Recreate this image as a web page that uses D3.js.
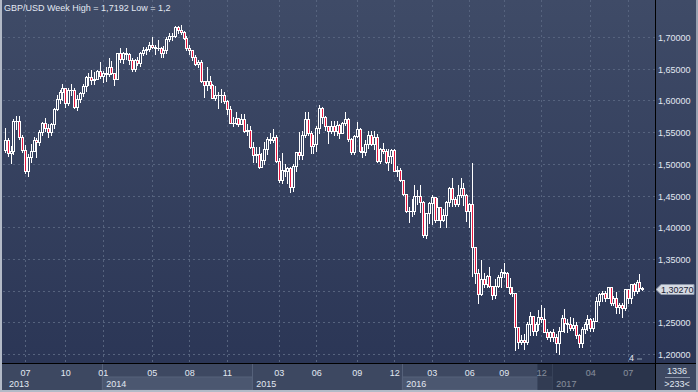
<!DOCTYPE html>
<html><head><meta charset="utf-8">
<script src="https://cdn.jsdelivr.net/npm/d3@7"></script>
<style>html,body{margin:0;padding:0;background:#2f3a55;overflow:hidden}svg{display:block}</style>
</head><body><svg id="c" width="698" height="392"></svg>
<script>
// ---------------- DATA ----------------
const startWeek = "2013-05-13";          // Monday of first weekly candle
const firstOpen = 1.5210;
const closes = [
1.5370,1.5170,1.5200,1.5670,1.5680,1.5430,1.5210,1.4880,1.5100,1.5200,
1.5380,1.5340,1.5500,1.5640,1.5570,1.5500,1.5630,1.5870,1.6020,1.6140,
1.6190,1.5960,1.6160,1.6170,1.5900,1.6020,1.6120,1.6230,1.6370,1.6370,
1.6320,1.6340,1.6470,1.6380,1.6440,1.6420,1.6530,1.6430,1.6340,1.6740,
1.6660,1.6750,1.6730,1.6630,1.6490,1.6640,1.6590,1.6750,1.6790,1.6810,
1.6880,1.6850,1.6820,1.6830,1.6750,1.6800,1.6970,1.7020,1.7010,1.7150,
1.7110,1.7080,1.6980,1.6830,1.6790,1.6690,1.6570,1.6600,1.6310,1.6250,
1.6300,1.6240,1.6040,1.6090,1.6090,1.6080,1.5990,1.5860,1.5650,1.5650,
1.5720,1.5630,1.5710,1.5520,1.5540,1.5270,1.5140,1.5160,1.4950,1.5060,
1.5240,1.5390,1.5380,1.5430,1.5040,1.4750,1.4900,1.4890,1.4930,1.4630,
1.4960,1.5180,1.5140,1.5450,1.5700,1.5480,1.5280,1.5320,1.5560,1.5880,
1.5740,1.5600,1.5510,1.5600,1.5510,1.5610,1.5490,1.5640,1.5700,1.5390,
1.5180,1.5440,1.5550,1.5200,1.5180,1.5320,1.5450,1.5320,1.5420,1.5040,
1.5230,1.5200,1.5030,1.5130,1.5210,1.4890,1.4910,1.4740,1.4530,1.4260,
1.4260,1.4250,1.4500,1.4500,1.4400,1.3880,1.4220,1.4380,1.4470,1.4120,
1.4320,1.4120,1.4200,1.4400,1.4620,1.4440,1.4360,1.4510,1.4620,1.4510,
1.4250,1.4360,1.3680,1.3280,1.2950,1.3180,1.3100,1.3230,1.3080,1.2930,
1.3070,1.3220,1.3300,1.3270,1.3060,1.2960,1.2970,1.2430,1.2190,1.2220,
1.2190,1.2480,1.2600,1.2360,1.2480,1.2590,1.2550,1.2350,1.2270,1.2340,
1.2270,1.2180,1.2370,1.2560,1.2490,1.2480,1.2410,1.2460,1.2300,1.2180,
1.2400,1.2480,1.2550,1.2410,1.2520,1.2830,1.2950,1.2960,1.2880,1.3050,
1.2800,1.2890,1.2740,1.2780,1.2720,1.3020,1.2880,1.3100,1.3000,1.3140,
1.3040,1.3027];
const highs = [
1.5560,1.5400,1.5280,1.5700,1.5750,1.5750,1.5460,1.5290,1.5150,1.5320,
1.5430,1.5400,1.5530,1.5660,1.5720,1.5620,1.5650,1.5880,1.6080,1.6160,
1.6260,1.6200,1.6190,1.6260,1.6200,1.6080,1.6140,1.6260,1.6390,1.6440,
1.6480,1.6450,1.6480,1.6600,1.6470,1.6520,1.6670,1.6620,1.6440,1.6750,
1.6820,1.6760,1.6820,1.6740,1.6670,1.6660,1.6680,1.6770,1.6840,1.6840,
1.6920,1.7000,1.6880,1.6960,1.6840,1.6860,1.7000,1.7060,1.7060,1.7180,
1.7180,1.7192,1.7100,1.7010,1.6880,1.6790,1.6710,1.6640,1.6640,1.6260,
1.6520,1.6390,1.6260,1.6230,1.6140,1.6180,1.6130,1.6000,1.5910,1.5740,
1.5810,1.5720,1.5790,1.5790,1.5620,1.5600,1.5340,1.5270,1.5270,1.5170,
1.5350,1.5420,1.5490,1.5550,1.5450,1.5090,1.5170,1.5000,1.4950,1.4950,
1.4990,1.5190,1.5500,1.5520,1.5810,1.5820,1.5520,1.5460,1.5590,1.5930,
1.5900,1.5760,1.5600,1.5680,1.5680,1.5670,1.5630,1.5660,1.5820,1.5730,
1.5400,1.5460,1.5660,1.5560,1.5270,1.5370,1.5510,1.5510,1.5510,1.5470,
1.5250,1.5330,1.5230,1.5240,1.5240,1.5240,1.4960,1.4930,1.4750,1.4530,
1.4320,1.4450,1.4670,1.4590,1.4670,1.4410,1.4230,1.4400,1.4510,1.4460,
1.4460,1.4300,1.4280,1.4420,1.4640,1.4770,1.4470,1.4660,1.4770,1.4690,
1.4530,1.4380,1.5020,1.3530,1.3340,1.3480,1.3280,1.3250,1.3370,1.3050,
1.3190,1.3250,1.3340,1.3440,1.3300,1.3200,1.3060,1.2970,1.2380,1.2300,
1.2320,1.2500,1.2670,1.2590,1.2510,1.2700,1.2770,1.2730,1.2400,1.2370,
1.2400,1.2320,1.2420,1.2620,1.2710,1.2550,1.2580,1.2570,1.2500,1.2320,
1.2420,1.2510,1.2620,1.2570,1.2560,1.2900,1.2960,1.2990,1.2990,1.3060,
1.3050,1.2920,1.2980,1.2810,1.2810,1.3030,1.3030,1.3110,1.3120,1.3160,
1.3268,1.3060];
const lows = [
1.5180,1.5120,1.5010,1.5160,1.5550,1.5390,1.5180,1.4860,1.4810,1.5030,
1.5210,1.5100,1.5290,1.5450,1.5520,1.5420,1.5450,1.5560,1.5850,1.5960,
1.6000,1.5900,1.5920,1.6080,1.5880,1.5850,1.5980,1.6070,1.6150,1.6250,
1.6260,1.6260,1.6340,1.6360,1.6290,1.6300,1.6380,1.6410,1.6250,1.6330,
1.6610,1.6590,1.6660,1.6580,1.6460,1.6460,1.6560,1.6540,1.6710,1.6730,
1.6780,1.6820,1.6730,1.6790,1.6690,1.6690,1.6750,1.6930,1.6960,1.7000,
1.7060,1.7040,1.6970,1.6800,1.6730,1.6640,1.6560,1.6530,1.6290,1.6050,
1.6160,1.6200,1.6030,1.6000,1.5880,1.5980,1.5960,1.5790,1.5640,1.5590,
1.5620,1.5590,1.5620,1.5500,1.5460,1.5250,1.5035,1.5030,1.4940,1.4950,
1.4990,1.5150,1.5330,1.5350,1.5030,1.4710,1.4690,1.4810,1.4690,1.4560,
1.4570,1.4880,1.5080,1.5070,1.5430,1.5450,1.5170,1.5170,1.5200,1.5480,
1.5640,1.5530,1.5330,1.5490,1.5460,1.5450,1.5400,1.5480,1.5610,1.5360,
1.5160,1.5150,1.5430,1.5190,1.5110,1.5140,1.5250,1.5300,1.5240,1.5030,
1.5020,1.5170,1.5020,1.4900,1.5010,1.4880,1.4800,1.4730,1.4510,1.4240,
1.4080,1.4170,1.4210,1.4370,1.4240,1.3840,1.3830,1.4070,1.4050,1.4080,
1.4110,1.4000,1.4090,1.4010,1.4330,1.4330,1.4330,1.4340,1.4470,1.4350,
1.4100,1.4010,1.3230,1.3120,1.2800,1.2930,1.3060,1.3050,1.3050,1.2860,
1.2880,1.3060,1.3060,1.3220,1.3050,1.2940,1.2910,1.2060,1.2090,1.2150,
1.2080,1.2150,1.2300,1.2300,1.2300,1.2380,1.2500,1.2340,1.2240,1.2200,
1.2200,1.2030,1.2000,1.2380,1.2350,1.2350,1.2380,1.2380,1.2250,1.2110,
1.2110,1.2330,1.2380,1.2370,1.2370,1.2520,1.2770,1.2840,1.2840,1.2880,
1.2770,1.2770,1.2640,1.2640,1.2590,1.2690,1.2810,1.2810,1.2930,1.2970,
1.3000,1.3010];

const priceTicks = [1.20,1.25,1.30,1.35,1.40,1.45,1.50,1.55,1.60,1.65,1.70];
const monthTickWeeks = ["2013-07-01","2013-10-07","2014-01-06","2014-05-05","2014-08-04","2014-11-03",
  "2015-03-09","2015-06-08","2015-09-14","2015-12-14","2016-03-14","2016-06-13","2016-09-05",
  "2016-12-05","2017-04-03","2017-07-03"];
const monthTickLabels = ["07","10","01","05","08","11","03","06","09","12","03","06","09","12","04","07"];
const yearStartWeeks = ["2013-05-13","2014-01-06","2015-01-05","2016-01-04","2017-01-02"];
const yearLabels = ["2013","2014","2015","2016","2017"];
const titleText = "GBP/USD Week High = 1,7192 Low = 1,2";
const lastPrice = 1.30270;
const cornerTop = "1336", cornerBottom = ">233<";
const pageLabel = "4";
const dimFromWeek = "2016-11-28";

// ---------------- LAYOUT ----------------
const W = 698, H = 392;
const plotL = 3, plotR = 655, plotB = 363;
const FONT = "'Liberation Sans', Arial, sans-serif";
const TXT = "#e2e8f2";
const svg = d3.select("#c");
const parse = d3.utcParse("%Y-%m-%d");
const t0 = parse(startWeek);
const weekIdx = s => d3.utcMonday.count(t0, parse(s));
const n = closes.length;
const opens = closes.map((c, i) => i === 0 ? firstOpen : closes[i - 1]);

const x = d3.scaleLinear().domain([-0.6, 225.4]).range([plotL, plotR]);
const y = d3.scaleLinear().domain([1.2, 1.7]).range([354, 37]);

const defs = svg.append("defs");
const g1 = defs.append("linearGradient").attr("id","bg").attr("x1",0).attr("y1",0).attr("x2",0).attr("y2",1);
g1.append("stop").attr("offset","0%").attr("stop-color","#3f4b67");
g1.append("stop").attr("offset","100%").attr("stop-color","#2b3656");

// backgrounds
svg.append("rect").attr("x",0).attr("y",0).attr("width",W).attr("height",plotB).attr("fill","url(#bg)");
svg.append("rect").attr("x",0).attr("y",plotB).attr("width",W).attr("height",H-plotB).attr("fill","#3d4861");

// grid
const grid = svg.append("g").attr("stroke","#56637e").attr("stroke-dasharray","2,3").attr("stroke-width",1);
priceTicks.forEach(p => {
  const yy = Math.round(y(p)) + 0.5;
  grid.append("line").attr("x1",plotL).attr("x2",plotR).attr("y1",yy).attr("y2",yy);
});
monthTickWeeks.forEach(s => {
  const xx = Math.round(x(weekIdx(s))) + 0.5;
  grid.append("line").attr("x1",xx).attr("x2",xx).attr("y1",0).attr("y2",plotB);
});

// candles
const RED = "#e8173f", WHITE = "#ffffff";
const cg = svg.append("g");
for (let i = 0; i < n; i++) {
  const o = opens[i], c = closes[i], hi = highs[i], lo = lows[i];
  const cx = Math.round(x(i));
  const yTop = Math.round(y(Math.max(o, c)));
  const yBot = Math.round(y(Math.min(o, c)));
  const yHi = Math.round(y(hi)), yLo = Math.round(y(lo));
  const up = c >= o;
  if (yHi < yTop) cg.append("rect").attr("x",cx).attr("y",yHi).attr("width",1).attr("height",yTop-yHi).attr("fill",WHITE);
  if (yLo > yBot) cg.append("rect").attr("x",cx).attr("y",yBot).attr("width",1).attr("height",yLo-yBot+1).attr("fill",WHITE);
  const h = Math.max(yBot - yTop, 0) + 1;
  cg.append("rect").attr("x",cx-1).attr("y",yTop).attr("width",3).attr("height",h).attr("fill",WHITE);
  if (h > 2) cg.append("rect").attr("x",cx).attr("y",yTop+1).attr("width",1).attr("height",h-2)
      .attr("fill", up ? "#34405e" : RED);
}

// title
svg.append("text").attr("x",4).attr("y",11).attr("font-family",FONT).attr("font-size",9)
  .attr("fill",TXT).text(titleText);

// right axis labels (the one hidden behind the last-price marker is skipped)
const fmt = v => v.toFixed(5).replace(".", ",");
priceTicks.filter(p => Math.abs(y(p) - y(lastPrice)) > 9).forEach(p => {
  svg.append("text").attr("x",658).attr("y",Math.round(y(p))+3.5).attr("font-family",FONT)
    .attr("font-size",9).attr("fill",TXT).text(fmt(p));
});

// last price marker
const ly = Math.round(y(lastPrice)) + 0.5;
svg.append("path").attr("d",`M656,${ly} L661,${ly-5} L694,${ly-5} L694,${ly+5} L661,${ly+5} Z`)
  .attr("fill","#d5dae3").attr("stroke","#8d97aa").attr("stroke-width",1);
svg.append("text").attr("x",661).attr("y",ly+3.5).attr("font-family",FONT).attr("font-size",9)
  .attr("fill","#1b2335").text(fmt(lastPrice));

// bottom axis: year bands
const yrX = yearStartWeeks.map((s, k) => k === 0 ? plotL : x(weekIdx(s)) - 0.5);
yearLabels.forEach((lab, k) => {
  const x0 = yrX[k], x1 = k + 1 < yrX.length ? yrX[k+1] : plotR;
  if (k % 2 === 1) {
    svg.append("rect").attr("x",x0).attr("y",377).attr("width",x1-x0).attr("height",13)
      .attr("fill","#4b5770").attr("stroke","#56627a");
  }
  if (k > 0) svg.append("line").attr("x1",Math.round(x0)+0.5).attr("x2",Math.round(x0)+0.5)
      .attr("y1",plotB).attr("y2",390).attr("stroke","#55617a");
  svg.append("text").attr("x",x0 + (k===0?6:4)).attr("y",386.5).attr("font-family",FONT)
    .attr("font-size",9).attr("fill",TXT).text(lab);
});
monthTickWeeks.forEach((s, k) => {
  svg.append("text").attr("x",x(weekIdx(s))+0.5).attr("y",375.5).attr("text-anchor","middle")
    .attr("font-family",FONT).attr("font-size",9).attr("fill",TXT).text(monthTickLabels[k]);
});
// dimmed last range
const dimX = x(weekIdx(dimFromWeek)) - 1;
svg.append("rect").attr("x",dimX).attr("y",plotB).attr("width",plotR-dimX).attr("height",27)
  .attr("fill","#141c30").attr("opacity",0.45);

// page label
svg.append("text").attr("x",629).attr("y",361).attr("font-family",FONT).attr("font-size",9)
  .attr("fill",TXT).text(pageLabel);
svg.append("rect").attr("x",637).attr("y",358).attr("width",5).attr("height",2).attr("fill","#5d6a84");

// corner cell
svg.append("text").attr("x",677).attr("y",373.5).attr("text-anchor","middle").attr("font-family",FONT)
  .attr("font-size",9).attr("fill",TXT).text(cornerTop);
svg.append("line").attr("x1",665).attr("x2",690).attr("y1",377.5).attr("y2",377.5).attr("stroke","#8a94a8");
svg.append("text").attr("x",677).attr("y",387).attr("text-anchor","middle").attr("font-family",FONT)
  .attr("font-size",9).attr("fill",TXT).text(cornerBottom);

// frame lines
svg.append("rect").attr("x",0).attr("y",plotB).attr("width",W).attr("height",1).attr("fill","#000");
svg.append("rect").attr("x",plotR).attr("y",0).attr("width",1).attr("height",H).attr("fill","#000");
svg.append("rect").attr("x",0).attr("y",0).attr("width",2).attr("height",H).attr("fill","#b3bac7");
svg.append("rect").attr("x",0).attr("y",H-2).attr("width",W).attr("height",2).attr("fill","#b3bac7");
svg.append("rect").attr("x",W-2).attr("y",0).attr("width",2).attr("height",H).attr("fill","#9aa2b2");
</script></body></html>
